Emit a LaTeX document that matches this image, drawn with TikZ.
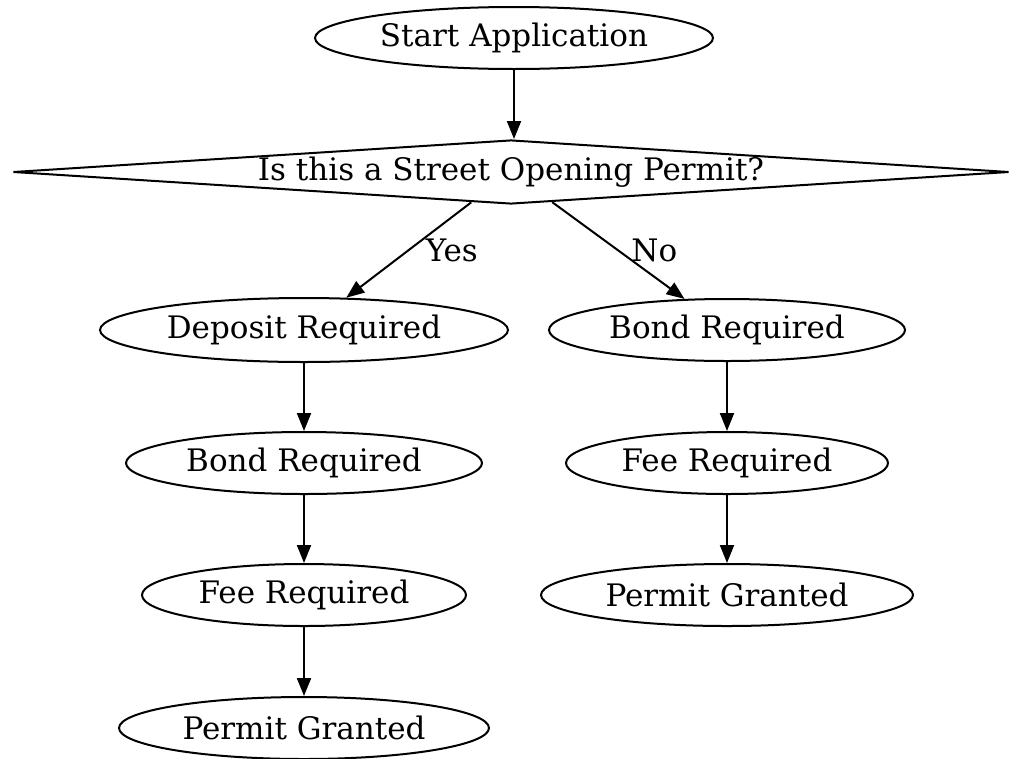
\documentclass[tikz,border=0pt]{standalone}
\usepackage{fontspec}
\setmainfont{DejaVu Serif}
\usetikzlibrary{shapes.geometric,arrows.meta}
\begin{document}
\begin{tikzpicture}[x=1pt,y=-1pt,
  every node/.style={font=\fontsize{31}{36}\selectfont},
  oval/.style={draw,ellipse,line width=2pt,inner sep=0pt,minimum height=62pt},
  decision/.style={draw,diamond,line width=2pt,inner sep=0pt,shape aspect=15.5,minimum width=996pt,minimum height=64pt},
  edgelabel/.style={inner sep=0pt,font=\fontsize{31}{36}\selectfont},
  flow/.style={-{Triangle[length=18pt,width=14pt]},line width=2pt}]
\useasboundingbox (0,0) rectangle (1011,758);
\clip (0,0) rectangle (1011,758);
\node[oval,minimum width=398pt] (start) at (514,38) {Start Application};
\node[decision] (q) at (511,172) {Is this a Street Opening Permit?};
\node[oval,minimum width=408pt,minimum height=64pt] (dep) at (304,330) {Deposit Required};
\node[oval,minimum width=356pt] (bondL) at (304,463) {Bond Required};
\node[oval,minimum width=324pt] (feeL) at (304,595) {Fee Required};
\node[oval,minimum width=370pt] (permL) at (304,728) {Permit Granted};
\node[oval,minimum width=356pt] (bondR) at (727,330) {Bond Required};
\node[oval,minimum width=322pt] (feeR) at (727,463) {Fee Required};
\node[oval,minimum width=372pt] (permR) at (727,595) {Permit Granted};
\draw[flow] (start.south) -- (start.south |- q.north);
\draw[flow] (q) -- node[edgelabel,anchor=west,xshift=16pt] (yes) {Yes} (dep);
\draw[flow] (q) -- node[edgelabel,anchor=west,xshift=12pt] (no) {No} (bondR);
\draw[flow] (dep) -- (bondL);
\draw[flow] (bondL) -- (feeL);
\draw[flow] (feeL) -- (permL);
\draw[flow] (bondR) -- (feeR);
\draw[flow] (feeR) -- (permR);
\end{tikzpicture}
\end{document}
